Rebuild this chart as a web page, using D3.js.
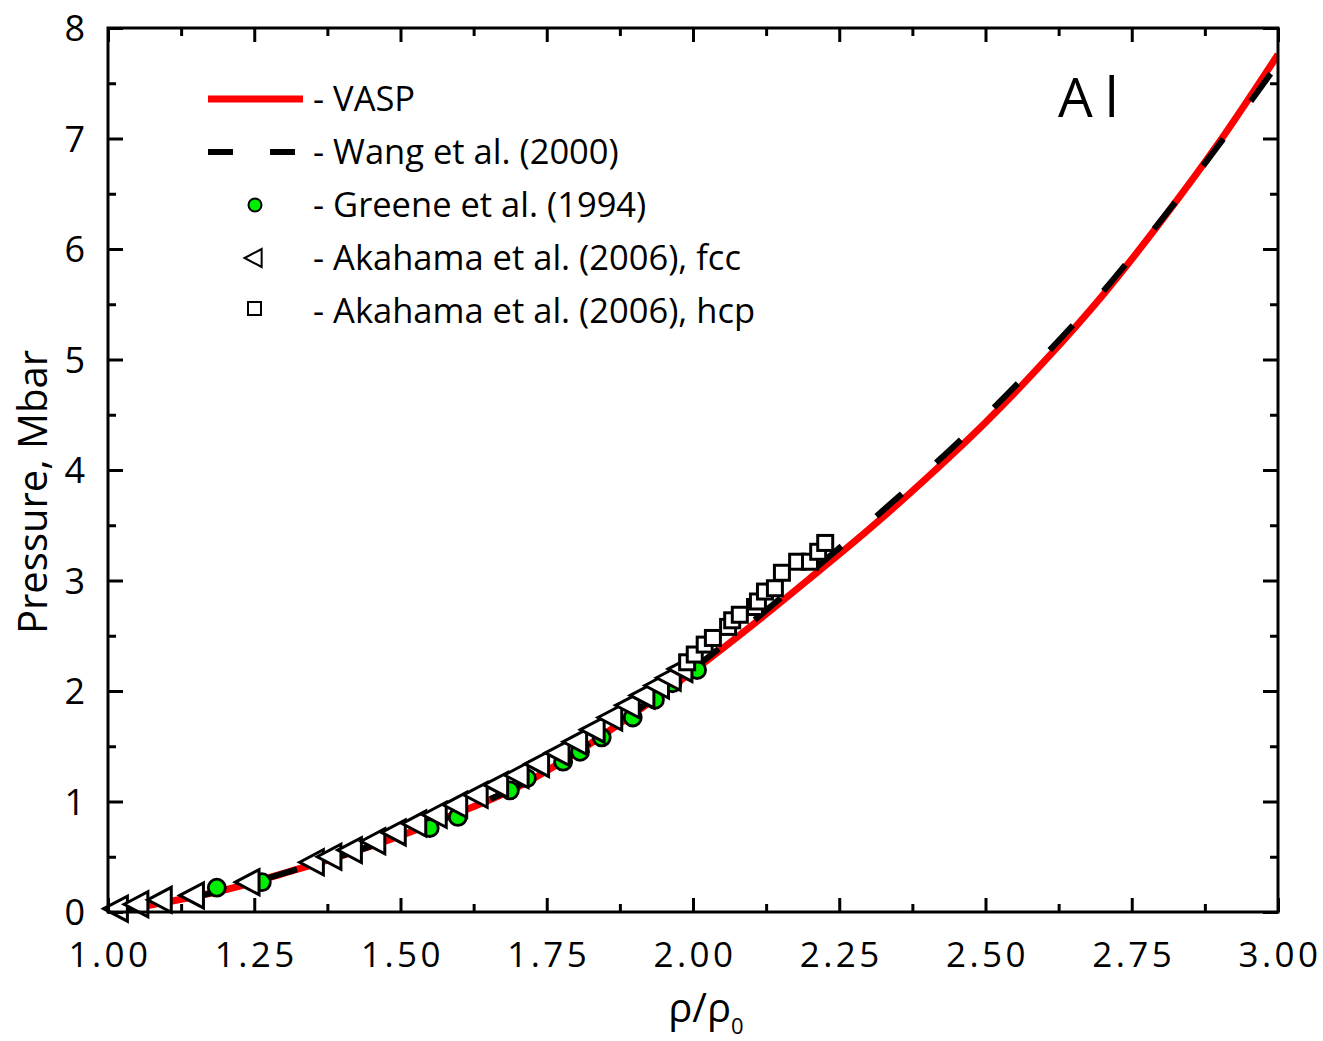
<!DOCTYPE html>
<html>
<head>
<meta charset="utf-8">
<script src="https://cdn.jsdelivr.net/npm/d3@7"></script>
<style>
  html, body { margin: 0; padding: 0; background: #fff; }
  svg { display: block; font-family: "Open Sans", "Noto Sans", sans-serif; }
</style>
</head>
<body>
<svg id="chart" width="1323" height="1041"></svg>
<script>
// ---------- data ----------
const vaspRho = [1.00, 1.05, 1.10, 1.15, 1.20, 1.25, 1.30, 1.40, 1.50, 1.60, 1.70, 1.80, 1.90, 2.00, 2.10, 2.20, 2.30, 2.40, 2.50, 2.60, 2.70, 2.80, 2.90, 3.00];
const vaspP   = [0.00, 0.04, 0.09, 0.14, 0.20, 0.27, 0.35, 0.51, 0.69, 0.90, 1.13, 1.44, 1.80, 2.18, 2.59, 3.02, 3.46, 3.93, 4.43, 4.98, 5.58, 6.25, 6.97, 7.76];

const wangRho = [1.00, 1.10, 1.20, 1.30, 1.40, 1.50, 1.60, 1.70, 1.80, 1.90, 2.00, 2.10, 2.20, 2.30, 2.40, 2.50, 2.60, 2.70, 2.80, 2.90, 3.00];
const wangP   = [0.00, 0.09, 0.20, 0.35, 0.51, 0.69, 0.90, 1.14, 1.45, 1.81, 2.20, 2.62, 3.07, 3.52, 3.99, 4.49, 5.03, 5.61, 6.26, 6.95, 7.68];

const greeneRho = [1.186, 1.263, 1.550, 1.598, 1.687, 1.716, 1.778, 1.807, 1.844, 1.897, 1.935, 1.965, 2.007];
const greeneP   = [0.22, 0.27, 0.76, 0.86, 1.10, 1.21, 1.36, 1.45, 1.58, 1.76, 1.92, 2.07, 2.19];

const fccRho = [1.015, 1.050, 1.090, 1.145, 1.240, 1.350, 1.380, 1.415, 1.455, 1.490, 1.525, 1.560, 1.595, 1.630, 1.665, 1.700, 1.735, 1.770, 1.800, 1.830, 1.860, 1.890, 1.915, 1.940, 1.960, 1.980];
const fccP   = [0.03, 0.07, 0.11, 0.15, 0.27, 0.45, 0.50, 0.56, 0.64, 0.72, 0.80, 0.88, 0.97, 1.06, 1.15, 1.24, 1.34, 1.44, 1.54, 1.65, 1.76, 1.87, 1.96, 2.05, 2.12, 2.20];

const hcpRho = [1.990, 2.003, 2.020, 2.034, 2.060, 2.067, 2.080, 2.106, 2.111, 2.123, 2.140, 2.152, 2.178, 2.200, 2.214, 2.226];
const hcpP   = [2.26, 2.33, 2.42, 2.48, 2.58, 2.64, 2.69, 2.76, 2.81, 2.90, 2.93, 3.07, 3.17, 3.17, 3.26, 3.34];

const xTicks = [1.00, 1.25, 1.50, 1.75, 2.00, 2.25, 2.50, 2.75, 3.00];
const xTickLabels = ["1.00", "1.25", "1.50", "1.75", "2.00", "2.25", "2.50", "2.75", "3.00"];
const yTicks = [0, 1, 2, 3, 4, 5, 6, 7, 8];
const yTickLabels = ["0", "1", "2", "3", "4", "5", "6", "7", "8"];

const legendLabels = ["- VASP", "- Wang et al. (2000)", "- Greene et al. (1994)", "- Akahama et al. (2006), fcc", "- Akahama et al. (2006), hcp"];

// ---------- layout ----------
const W = 1323, H = 1041;
const margin = {left: 108, right: 45, top: 28, bottom: 129};
const svg = d3.select("#chart");
const x = d3.scaleLinear().domain([1, 3]).range([margin.left, W - margin.right]);
const y = d3.scaleLinear().domain([0, 8]).range([H - margin.bottom, margin.top]);

const zip = (a, b) => a.map((v, i) => ({r: v, p: b[i]}));

svg.append("defs").append("clipPath").attr("id", "clip")
  .append("rect").attr("x", x(1)).attr("y", y(8)).attr("width", x(3) - x(1)).attr("height", y(0) - y(8));

const plot = svg.append("g").attr("clip-path", "url(#clip)");
const line = d3.line().x(d => x(d.r)).y(d => y(d.p)).curve(d3.curveCatmullRom.alpha(0.5));

plot.append("path").datum(zip(vaspRho, vaspP))
  .attr("d", line).attr("fill", "none").attr("stroke", "#ff0000").attr("stroke-width", 7);
plot.append("path").datum(zip(wangRho, wangP))
  .attr("d", line).attr("fill", "none").attr("stroke", "#000").attr("stroke-width", 6)
  .attr("stroke-dasharray", "34 46");

const markers = svg.append("g");
// circles
markers.selectAll("circle.g").data(zip(greeneRho, greeneP)).join("circle")
  .attr("cx", d => x(d.r)).attr("cy", d => y(d.p)).attr("r", 8.5)
  .attr("fill", "#00ee00").attr("stroke", "#000").attr("stroke-width", 2.8);
// left triangles
const triPath = (s) => `M${-s*1.05},0 L${s*0.85},${-s} L${s*0.85},${s} Z`;
markers.selectAll("path.t").data(zip(fccRho, fccP)).join("path")
  .attr("class", "t")
  .attr("transform", d => `translate(${x(d.r)},${y(d.p)})`)
  .attr("d", triPath(12.5))
  .attr("fill", "#fff").attr("stroke", "#000").attr("stroke-width", 3).attr("stroke-linejoin", "miter");
// squares
markers.selectAll("rect.s").data(zip(hcpRho, hcpP)).join("rect")
  .attr("class", "s")
  .attr("x", d => x(d.r) - 7.5).attr("y", d => y(d.p) - 7.5).attr("width", 15).attr("height", 15)
  .attr("fill", "#fff").attr("stroke", "#000").attr("stroke-width", 3);

// ---------- axes frame & ticks ----------
const ax = svg.append("g");
ax.append("rect").attr("x", x(1)).attr("y", y(8)).attr("width", x(3) - x(1)).attr("height", y(0) - y(8))
  .attr("fill", "none").attr("stroke", "#000").attr("stroke-width", 3);

const xMinor = d3.range(1, 3.0001, 0.125).filter(v => Math.abs((v - 1) / 0.25 - Math.round((v - 1) / 0.25)) > 1e-6);
const yMinor = d3.range(0.5, 8, 1);

const bottomAxis = d3.axisBottom(x).tickValues(xTicks).tickSize(-14).tickFormat("");
const topAxis = d3.axisTop(x).tickValues(xTicks).tickSize(-14).tickFormat("");
const leftAxis = d3.axisLeft(y).tickValues(yTicks).tickSize(-15).tickFormat("");
const rightAxis = d3.axisRight(y).tickValues(yTicks).tickSize(-15).tickFormat("");
const bottomMinor = d3.axisBottom(x).tickValues(xMinor).tickSize(-8).tickFormat("");
const topMinor = d3.axisTop(x).tickValues(xMinor).tickSize(-8).tickFormat("");
const leftMinor = d3.axisLeft(y).tickValues(yMinor).tickSize(-8).tickFormat("");
const rightMinor = d3.axisRight(y).tickValues(yMinor).tickSize(-8).tickFormat("");

function addAxis(a, tx, ty) {
  const g = ax.append("g").attr("transform", `translate(${tx},${ty})`).call(a);
  g.select(".domain").remove();
  g.selectAll(".tick line").attr("stroke", "#000").attr("stroke-width", 3);
}
addAxis(bottomAxis, 0, y(0)); addAxis(bottomMinor, 0, y(0));
addAxis(topAxis, 0, y(8)); addAxis(topMinor, 0, y(8));
addAxis(leftAxis, x(1), 0); addAxis(leftMinor, x(1), 0);
addAxis(rightAxis, x(3), 0); addAxis(rightMinor, x(3), 0);

// tick labels
svg.append("g").selectAll("text").data(xTicks).join("text")
  .attr("x", d => x(d) + 2).attr("y", y(0) + 55)
  .attr("text-anchor", "middle").attr("font-size", 35).attr("letter-spacing", 3.5)
  .text((d, i) => xTickLabels[i]);
svg.append("g").selectAll("text").data(yTicks).join("text")
  .attr("x", x(1) - 23).attr("y", d => y(d) + 13)
  .attr("text-anchor", "end").attr("font-size", 36)
  .text((d, i) => yTickLabels[i]);

// axis titles
svg.append("text").attr("transform", `translate(47, ${492}) rotate(-90)`)
  .attr("text-anchor", "middle").attr("font-size", 40).text("Pressure, Mbar");
const xt = svg.append("text").attr("x", 706).attr("y", 1022).attr("text-anchor", "middle").attr("font-size", 40);
xt.append("tspan").text("ρ/ρ");
xt.append("tspan").attr("font-size", 22).attr("dy", 12).text("0");

// Al label
svg.append("text").attr("x", 1058).attr("y", 117).attr("font-size", 55).attr("letter-spacing", 12).text("Al");

// ---------- legend ----------
const lg = svg.append("g");
const rowY = legendLabels.map((d, i) => 99 + i * 53);
lg.selectAll("text").data(legendLabels).join("text")
  .attr("x", 313).attr("y", (d, i) => rowY[i] + 12)
  .attr("font-size", 34.5).text(d => d);
lg.append("line").attr("x1", 208).attr("x2", 303).attr("y1", rowY[0]).attr("y2", rowY[0])
  .attr("stroke", "#ff0000").attr("stroke-width", 7);
lg.append("line").attr("x1", 208).attr("x2", 297).attr("y1", rowY[1]).attr("y2", rowY[1])
  .attr("stroke", "#000").attr("stroke-width", 6).attr("stroke-dasharray", "25 37");
lg.append("circle").attr("cx", 255).attr("cy", rowY[2]).attr("r", 6.5)
  .attr("fill", "#00ee00").attr("stroke", "#000").attr("stroke-width", 2);
lg.append("path").attr("transform", `translate(254,${rowY[3]})`).attr("d", triPath(9))
  .attr("fill", "#fff").attr("stroke", "#000").attr("stroke-width", 2);
lg.append("rect").attr("x", 248).attr("y", rowY[4] - 9).attr("width", 13).attr("height", 13)
  .attr("fill", "#fff").attr("stroke", "#000").attr("stroke-width", 2);
</script>
</body>
</html>
